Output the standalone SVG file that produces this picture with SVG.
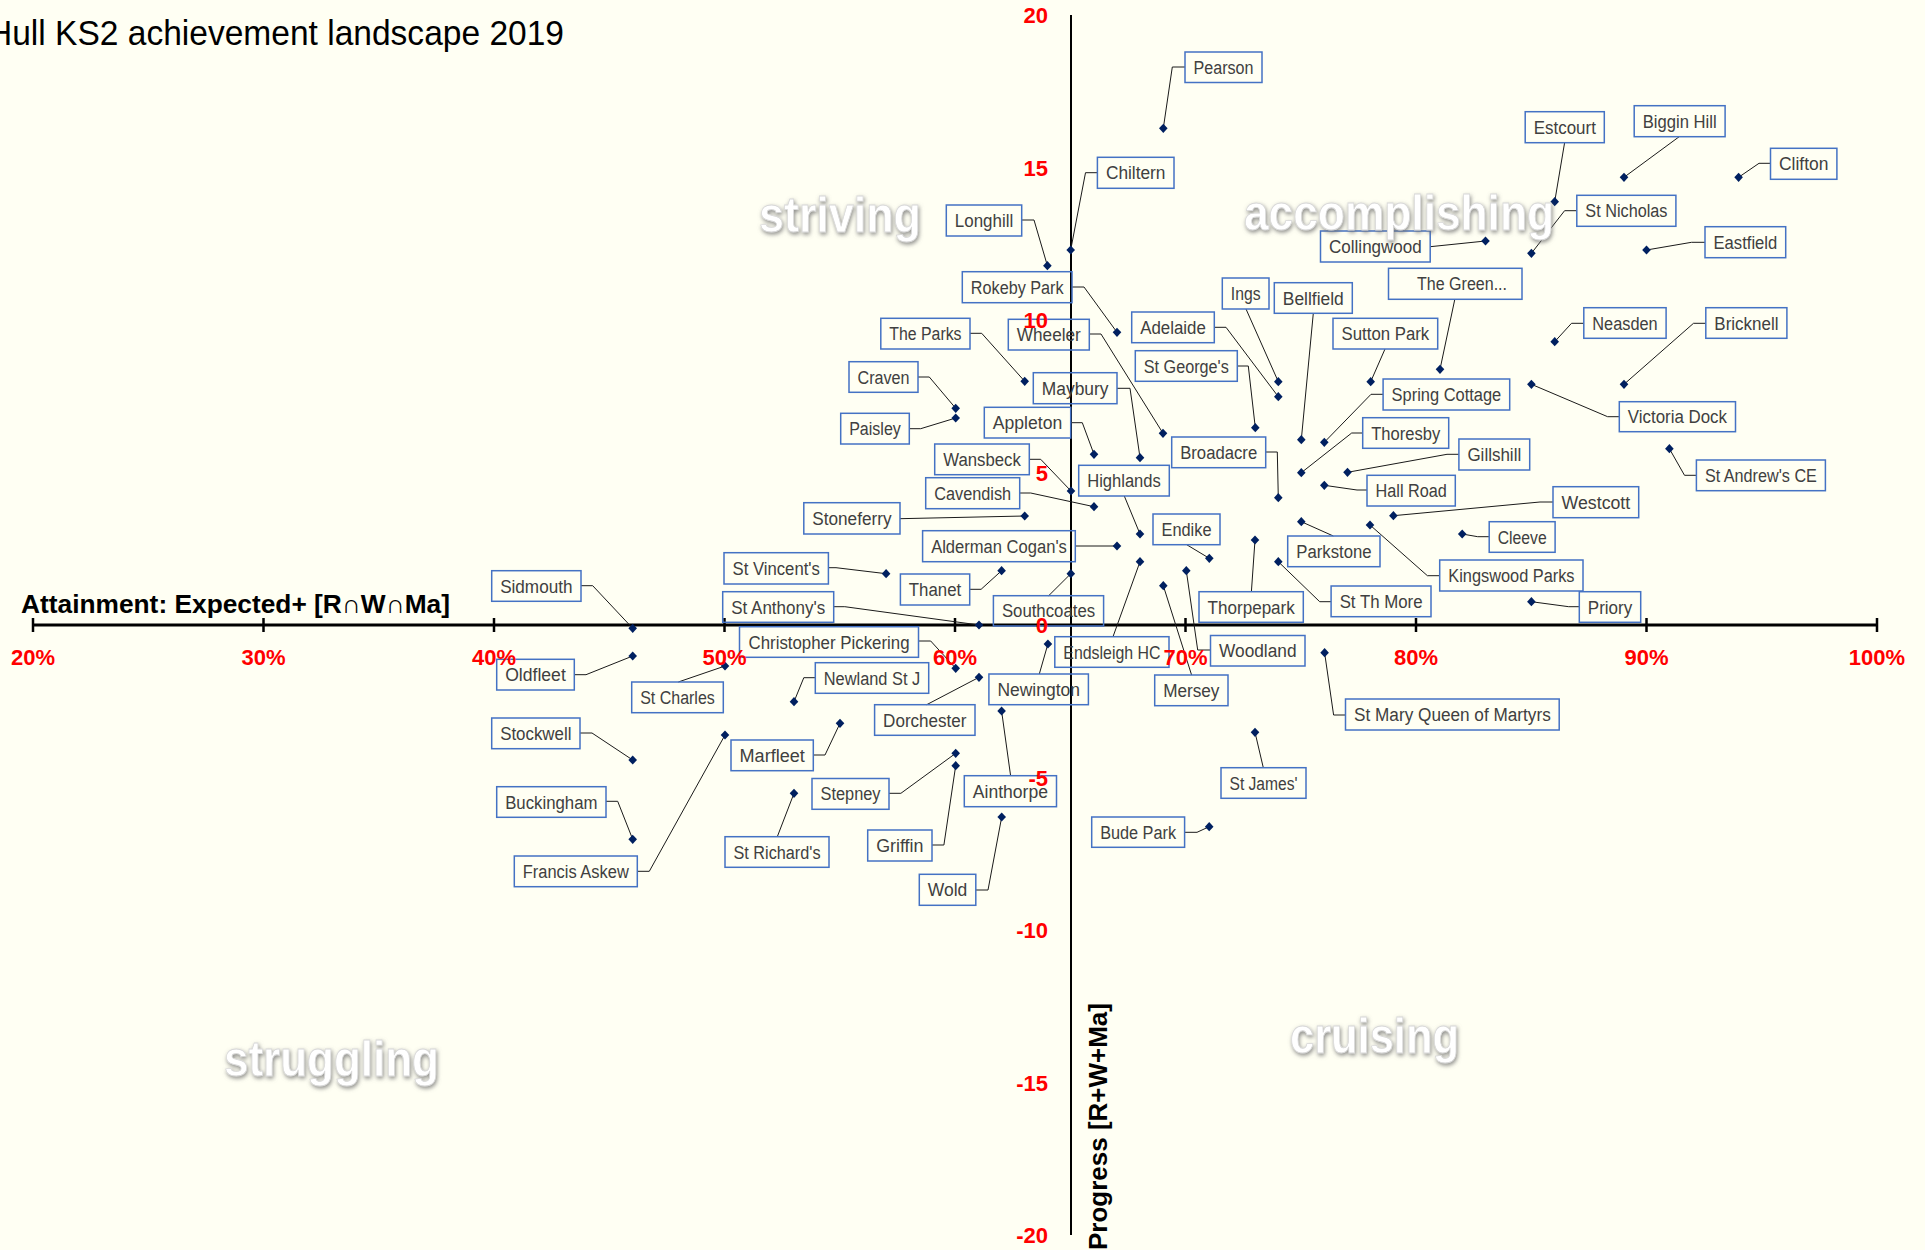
<svg xmlns="http://www.w3.org/2000/svg" xmlns:xlink="http://www.w3.org/1999/xlink" width="1925" height="1250" viewBox="0 0 1925 1250">
<style>
.bx{fill:none;stroke:#4472C4;stroke-width:1.5}
.lb{font-family:"Liberation Sans",Arial,sans-serif;font-size:18px;fill:#404040;text-anchor:middle}
.ld{fill:none;stroke:#1a1a1a;stroke-width:1}
.tx{font-family:"Liberation Sans",Arial,sans-serif;font-size:22px;font-weight:bold;fill:#FF0000;text-anchor:middle}
.ty{font-family:"Liberation Sans",Arial,sans-serif;font-size:22px;font-weight:bold;fill:#FF0000;text-anchor:end}
.at{font-family:"Liberation Sans",Arial,sans-serif;font-size:26px;font-weight:bold;fill:#000}
.q{font-family:"Liberation Sans",Arial,sans-serif;font-size:50px;font-weight:bold;fill:#fff;stroke:#d8d8d8;stroke-width:0.8}
</style>
<defs>
<path id="dm" d="M0,-4.6 L4.3,0 L0,4.6 L-4.3,0 Z" fill="#002060"/>
<filter id="glow" x="-10%" y="-30%" width="120%" height="170%">
<feGaussianBlur in="SourceAlpha" stdDeviation="2"/>
<feOffset dx="1" dy="2" result="b"/>
<feFlood flood-color="#6f6f6f" flood-opacity="0.8"/>
<feComposite in2="b" operator="in"/>
<feMerge><feMergeNode/><feMergeNode in="SourceGraphic"/></feMerge>
</filter>
</defs>
<rect x="0" y="0" width="1925" height="1250" fill="#FFFFF3"/>
<text x="-12" y="45" font-family="Liberation Sans, Arial, sans-serif" font-size="35" fill="#000" textLength="576" lengthAdjust="spacingAndGlyphs">Hull KS2 achievement landscape 2019</text>

<g id="axes">
<line x1="1071" y1="15" x2="1071" y2="1235" stroke="#000" stroke-width="2"/>
<line x1="33" y1="625" x2="1877" y2="625" stroke="#000" stroke-width="3"/>
<g stroke="#000" stroke-width="2.5">
<line x1="33" y1="618" x2="33" y2="632"/><line x1="263.5" y1="618" x2="263.5" y2="632"/><line x1="494" y1="618" x2="494" y2="632"/><line x1="724.5" y1="618" x2="724.5" y2="632"/><line x1="955" y1="618" x2="955" y2="632"/><line x1="1185.5" y1="618" x2="1185.5" y2="632"/><line x1="1416" y1="618" x2="1416" y2="632"/><line x1="1646.5" y1="618" x2="1646.5" y2="632"/><line x1="1877" y1="618" x2="1877" y2="632"/>
</g>
<text class="at" x="21" y="613" textLength="429" lengthAdjust="spacingAndGlyphs">Attainment: Expected+ [R∩W∩Ma]</text>
<text class="at" transform="translate(1107,1250) rotate(-90)" x="0" y="0" textLength="247" lengthAdjust="spacingAndGlyphs">Progress  [R+W+Ma]</text>
</g>

<g id="connectors">
<path class="ld" d="M1185,67 H1172.3 L1163.3,128.3"/>
<path class="ld" d="M1097.4,172.7 H1085.5 L1070.7,250"/>
<path class="ld" d="M1021.7,220 H1034 L1047.4,265.7"/>
<path class="ld" d="M1072,287 H1084 L1117,332.3"/>
<path class="ld" d="M970,333.3 H981.7 L1024.7,381.3"/>
<path class="ld" d="M1089.3,334 H1101 L1163,433.3"/>
<path class="ld" d="M918,377 H929.3 L955.7,408.3"/>
<path class="ld" d="M909.3,428.7 H920.7 L955.7,418"/>
<path class="ld" d="M1117,388.3 H1130 L1140,457.7"/>
<path class="ld" d="M1070.7,422.7 H1082.3 L1094,454.3"/>
<path class="ld" d="M1029.3,459.3 H1040.7 L1071,491"/>
<path class="ld" d="M1019.7,493 H1030.7 L1094,506.7"/>
<path class="ld" d="M1124.3,496 L1140,534"/>
<path class="ld" d="M900,518.7 L1024.7,516"/>
<path class="ld" d="M1075.3,546 H1117"/>
<path class="ld" d="M828.4,567.7 H836 L886.1,573.7"/>
<path class="ld" d="M969.7,589.3 H981.1 L1001.6,570.7"/>
<path class="ld" d="M833.7,606.7 H844.8 L979,625"/>
<path class="ld" d="M1048.7,595.7 L1070.8,573.7"/>
<path class="ld" d="M581,585.7 H592.7 L632.7,628.3"/>
<path class="ld" d="M574.3,674.7 H586 L632.7,656"/>
<path class="ld" d="M678.3,682 L725,666"/>
<path class="ld" d="M918.5,641 H930.7 L955.7,668.3"/>
<path class="ld" d="M815.3,677.7 H803.8 L794,701.7"/>
<path class="ld" d="M580,733 H592 L632.7,760"/>
<path class="ld" d="M813.3,755 H825 L840,723.3"/>
<path class="ld" d="M926.7,704.7 L979,677.3"/>
<path class="ld" d="M1039.3,674 L1047.9,644"/>
<path class="ld" d="M606,801.3 H617.7 L632.7,839.3"/>
<path class="ld" d="M637.3,871.3 H649.3 L725,735"/>
<path class="ld" d="M777.3,836.7 L794,793.3"/>
<path class="ld" d="M889,793.3 H900.9 L955.7,753.3"/>
<path class="ld" d="M932,845 H943.9 L955.7,765.7"/>
<path class="ld" d="M975.8,890 H988 L1001.7,817"/>
<path class="ld" d="M1010.6,775.7 L1001.6,711"/>
<path class="ld" d="M1184.6,832.3 H1197 L1209.2,826.7"/>
<path class="ld" d="M1113,636.7 L1140,561.7"/>
<path class="ld" d="M1191.6,675 L1163.3,585.7"/>
<path class="ld" d="M1210.5,650 H1197.7 L1186.3,570.7"/>
<path class="ld" d="M1263.3,767.7 L1255,732.3"/>
<path class="ld" d="M1345.5,715 H1333.6 L1324.6,652.7"/>
<path class="ld" d="M1251.4,591.7 L1255,540"/>
<path class="ld" d="M1186.7,544.7 L1209.3,558.3"/>
<path class="ld" d="M1265.7,452 H1277.3 L1278.3,497.7"/>
<path class="ld" d="M1214.3,327.3 H1226 L1278.3,396.7"/>
<path class="ld" d="M1237.3,366 H1248.3 L1255.3,427.7"/>
<path class="ld" d="M1246,309 L1278.3,381.7"/>
<path class="ld" d="M1313.3,313.3 L1301.3,439.7"/>
<path class="ld" d="M1454.8,299.3 L1440,369.3"/>
<path class="ld" d="M1385,349 L1370.7,381.7"/>
<path class="ld" d="M1383.1,394.3 H1371 L1324.3,442.3"/>
<path class="ld" d="M1362.7,433 H1351.7 L1301.3,472.7"/>
<path class="ld" d="M1458.9,454.3 H1447 L1347.5,472.3"/>
<path class="ld" d="M1367,490 H1357 L1324.3,485.3"/>
<path class="ld" d="M1553,502 H1540 L1393.4,515.7"/>
<path class="ld" d="M1489.2,536.7 H1477.7 L1462.2,534"/>
<path class="ld" d="M1333.3,536 L1301.3,521.7"/>
<path class="ld" d="M1439.7,575.7 H1427.4 L1370,525"/>
<path class="ld" d="M1331.1,601.7 H1319.7 L1278.3,561.7"/>
<path class="ld" d="M1579.3,606.7 H1568.7 L1531.4,601.7"/>
<path class="ld" d="M1564.6,142.7 L1554.7,201.7"/>
<path class="ld" d="M1679.2,136.7 L1624,177.3"/>
<path class="ld" d="M1770.5,163.3 H1759 L1738.6,177.3"/>
<path class="ld" d="M1576.8,210.7 H1564.6 L1531.4,253.3"/>
<path class="ld" d="M1430.2,246.7 L1485.5,241"/>
<path class="ld" d="M1705,242.3 H1691.5 L1646.5,250"/>
<path class="ld" d="M1583.8,323.3 H1571.5 L1554.7,341.7"/>
<path class="ld" d="M1705.8,323.3 H1693.5 L1624,384.3"/>
<path class="ld" d="M1619.3,416.7 H1607.6 L1531.4,384.3"/>
<path class="ld" d="M1696.4,475.3 H1684.5 L1669.4,448.7"/>
</g>

<g id="nodes">
<g id="n-pearson"><use href="#dm" x="1163.3" y="128.3"/><rect class="bx" x="1185" y="52" width="77" height="30.5"/><text class="lb" x="1223.5" y="73.6" textLength="60" lengthAdjust="spacingAndGlyphs">Pearson</text></g>
<g id="n-chiltern"><use href="#dm" x="1070.7" y="250"/><rect class="bx" x="1097.4" y="157.3" width="76.6" height="31"/><text class="lb" x="1135.7" y="179.3" textLength="59.6" lengthAdjust="spacingAndGlyphs">Chiltern</text></g>
<g id="n-longhill"><use href="#dm" x="1047.4" y="265.7"/><rect class="bx" x="946.3" y="205" width="75.4" height="31"/><text class="lb" x="984" y="227" textLength="58.4" lengthAdjust="spacingAndGlyphs">Longhill</text></g>
<g id="n-rokeby"><use href="#dm" x="1117" y="332.3"/><rect class="bx" x="962.3" y="271.7" width="109.7" height="31"/><text class="lb" x="1017.2" y="293.7" textLength="92.7" lengthAdjust="spacingAndGlyphs">Rokeby Park</text></g>
<g id="n-theparks"><use href="#dm" x="1024.7" y="381.3"/><rect class="bx" x="880.8" y="318.3" width="89.2" height="30.7"/><text class="lb" x="925.4" y="340.2" textLength="72.2" lengthAdjust="spacingAndGlyphs">The Parks</text></g>
<g id="n-wheeler"><use href="#dm" x="1163" y="433.3"/><rect class="bx" x="1008.3" y="319.3" width="81" height="30.7"/><text class="lb" x="1048.8" y="341.2" textLength="64" lengthAdjust="spacingAndGlyphs">Wheeler</text></g>
<g id="n-craven"><use href="#dm" x="955.7" y="408.3"/><rect class="bx" x="849" y="361.7" width="69" height="30.6"/><text class="lb" x="883.5" y="383.5" textLength="52" lengthAdjust="spacingAndGlyphs">Craven</text></g>
<g id="n-paisley"><use href="#dm" x="955.7" y="418"/><rect class="bx" x="840.7" y="413.3" width="68.6" height="30.7"/><text class="lb" x="875" y="435.2" textLength="51.6" lengthAdjust="spacingAndGlyphs">Paisley</text></g>
<g id="n-maybury"><use href="#dm" x="1140" y="457.7"/><rect class="bx" x="1033.3" y="372.7" width="83.7" height="31"/><text class="lb" x="1075.2" y="394.7" textLength="66.7" lengthAdjust="spacingAndGlyphs">Maybury</text></g>
<g id="n-appleton"><use href="#dm" x="1094" y="454.3"/><rect class="bx" x="984.3" y="407.3" width="86.4" height="30.7"/><text class="lb" x="1027.5" y="429.2" textLength="69.4" lengthAdjust="spacingAndGlyphs">Appleton</text></g>
<g id="n-wansbeck"><use href="#dm" x="1071" y="491"/><rect class="bx" x="934.7" y="444" width="94.6" height="30.7"/><text class="lb" x="982" y="465.9" textLength="77.6" lengthAdjust="spacingAndGlyphs">Wansbeck</text></g>
<g id="n-cavendish"><use href="#dm" x="1094" y="506.7"/><rect class="bx" x="925.7" y="477.7" width="94" height="31"/><text class="lb" x="972.7" y="499.7" textLength="77" lengthAdjust="spacingAndGlyphs">Cavendish</text></g>
<g id="n-highlands"><use href="#dm" x="1140" y="534"/><rect class="bx" x="1078.7" y="465.3" width="90.6" height="30.7"/><text class="lb" x="1124" y="487.2" textLength="73.6" lengthAdjust="spacingAndGlyphs">Highlands</text></g>
<g id="n-stoneferry"><use href="#dm" x="1024.7" y="516"/><rect class="bx" x="803.8" y="502.7" width="96.2" height="31.3"/><text class="lb" x="851.9" y="524.9" textLength="79.2" lengthAdjust="spacingAndGlyphs">Stoneferry</text></g>
<g id="n-alderman"><use href="#dm" x="1117" y="546"/><rect class="bx" x="922.6" y="530.7" width="152.7" height="31"/><text class="lb" x="999" y="552.7" textLength="135.7" lengthAdjust="spacingAndGlyphs">Alderman Cogan's</text></g>
<g id="n-stvincents"><use href="#dm" x="886.1" y="573.7"/><rect class="bx" x="724" y="552.7" width="104.4" height="31.3"/><text class="lb" x="776.2" y="574.9" textLength="87.4" lengthAdjust="spacingAndGlyphs">St Vincent's</text></g>
<g id="n-thanet"><use href="#dm" x="1001.6" y="570.7"/><rect class="bx" x="900.4" y="574" width="69.3" height="31"/><text class="lb" x="935" y="596" textLength="52.3" lengthAdjust="spacingAndGlyphs">Thanet</text></g>
<g id="n-stanthonys"><use href="#dm" x="979" y="625"/><rect class="bx" x="722.7" y="591.7" width="111" height="30.6"/><text class="lb" x="778.2" y="613.5" textLength="94" lengthAdjust="spacingAndGlyphs">St Anthony's</text></g>
<g id="n-southcoates"><use href="#dm" x="1070.8" y="573.7"/><rect class="bx" x="993.4" y="595.7" width="110.2" height="30.3"/><text class="lb" x="1048.5" y="617.4" textLength="93.2" lengthAdjust="spacingAndGlyphs">Southcoates</text></g>
<g id="n-sidmouth"><use href="#dm" x="632.7" y="628.3"/><rect class="bx" x="491.7" y="570.7" width="89.3" height="30.6"/><text class="lb" x="536.3" y="592.5" textLength="72.3" lengthAdjust="spacingAndGlyphs">Sidmouth</text></g>
<g id="n-oldfleet"><use href="#dm" x="632.7" y="656"/><rect class="bx" x="496.7" y="659.3" width="77.6" height="30.7"/><text class="lb" x="535.5" y="681.2" textLength="60.6" lengthAdjust="spacingAndGlyphs">Oldfleet</text></g>
<g id="n-stcharles"><use href="#dm" x="725" y="666"/><rect class="bx" x="631.7" y="682" width="91.6" height="30.7"/><text class="lb" x="677.5" y="703.9" textLength="74.6" lengthAdjust="spacingAndGlyphs">St Charles</text></g>
<g id="n-christopher"><use href="#dm" x="955.7" y="668.3"/><rect class="bx" x="739.5" y="626.7" width="179" height="30.6"/><text class="lb" x="829" y="648.5" textLength="161" lengthAdjust="spacingAndGlyphs">Christopher Pickering</text></g>
<g id="n-newland"><use href="#dm" x="794" y="701.7"/><rect class="bx" x="815.3" y="662.7" width="113.4" height="30.6"/><text class="lb" x="872" y="684.5" textLength="96.4" lengthAdjust="spacingAndGlyphs">Newland St J</text></g>
<g id="n-stockwell"><use href="#dm" x="632.7" y="760"/><rect class="bx" x="491.7" y="718" width="88.3" height="30.7"/><text class="lb" x="535.8" y="739.9" textLength="71.3" lengthAdjust="spacingAndGlyphs">Stockwell</text></g>
<g id="n-marfleet"><use href="#dm" x="840" y="723.3"/><rect class="bx" x="731" y="740" width="82.3" height="30.7"/><text class="lb" x="772.2" y="761.9" textLength="65.3" lengthAdjust="spacingAndGlyphs">Marfleet</text></g>
<g id="n-dorchester"><use href="#dm" x="979" y="677.3"/><rect class="bx" x="874.6" y="704.7" width="100.4" height="30.6"/><text class="lb" x="924.8" y="726.5" textLength="83.4" lengthAdjust="spacingAndGlyphs">Dorchester</text></g>
<g id="n-newington"><use href="#dm" x="1047.9" y="644"/><rect class="bx" x="988.9" y="674" width="99.5" height="30.7"/><text class="lb" x="1038.7" y="695.9" textLength="82.5" lengthAdjust="spacingAndGlyphs">Newington</text></g>
<g id="n-buckingham"><use href="#dm" x="632.7" y="839.3"/><rect class="bx" x="496.7" y="786.7" width="109.3" height="30.6"/><text class="lb" x="551.3" y="808.5" textLength="92.3" lengthAdjust="spacingAndGlyphs">Buckingham</text></g>
<g id="n-francis"><use href="#dm" x="725" y="735"/><rect class="bx" x="514.3" y="856" width="123" height="30.7"/><text class="lb" x="575.8" y="877.9" textLength="106" lengthAdjust="spacingAndGlyphs">Francis Askew</text></g>
<g id="n-strichards"><use href="#dm" x="794" y="793.3"/><rect class="bx" x="725" y="836.7" width="104" height="30.6"/><text class="lb" x="777" y="858.5" textLength="87" lengthAdjust="spacingAndGlyphs">St Richard's</text></g>
<g id="n-stepney"><use href="#dm" x="955.7" y="753.3"/><rect class="bx" x="812" y="778.5" width="77" height="30.8"/><text class="lb" x="850.5" y="800.4" textLength="60" lengthAdjust="spacingAndGlyphs">Stepney</text></g>
<g id="n-griffin"><use href="#dm" x="955.7" y="765.7"/><rect class="bx" x="867.7" y="830" width="64.3" height="31"/><text class="lb" x="899.8" y="852" textLength="47.3" lengthAdjust="spacingAndGlyphs">Griffin</text></g>
<g id="n-wold"><use href="#dm" x="1001.7" y="817"/><rect class="bx" x="919.3" y="874.3" width="56.5" height="31"/><text class="lb" x="947.6" y="896.3" textLength="39.5" lengthAdjust="spacingAndGlyphs">Wold</text></g>
<g id="n-ainthorpe"><use href="#dm" x="1001.6" y="711"/><rect class="bx" x="964.3" y="775.7" width="92.2" height="31"/><text class="lb" x="1010.4" y="797.7" textLength="75.2" lengthAdjust="spacingAndGlyphs">Ainthorpe</text></g>
<g id="n-budepark"><use href="#dm" x="1209.2" y="826.7"/><rect class="bx" x="1091.7" y="817" width="92.9" height="30.3"/><text class="lb" x="1138.1" y="838.7" textLength="75.9" lengthAdjust="spacingAndGlyphs">Bude Park</text></g>
<g id="n-endsleigh"><use href="#dm" x="1140" y="561.7"/><rect class="bx" x="1054.8" y="636.7" width="114.2" height="30.6"/><text class="lb" x="1111.9" y="658.5" textLength="97.2" lengthAdjust="spacingAndGlyphs">Endsleigh HC</text></g>
<g id="n-mersey"><use href="#dm" x="1163.3" y="585.7"/><rect class="bx" x="1154.7" y="675" width="73.3" height="30.7"/><text class="lb" x="1191.3" y="696.9" textLength="56.3" lengthAdjust="spacingAndGlyphs">Mersey</text></g>
<g id="n-woodland"><use href="#dm" x="1186.3" y="570.7"/><rect class="bx" x="1210.5" y="635.5" width="94.5" height="30.5"/><text class="lb" x="1257.8" y="657.3" textLength="77.5" lengthAdjust="spacingAndGlyphs">Woodland</text></g>
<g id="n-stjames"><use href="#dm" x="1255" y="732.3"/><rect class="bx" x="1221" y="767.7" width="85" height="30.6"/><text class="lb" x="1263.5" y="789.5" textLength="68" lengthAdjust="spacingAndGlyphs">St James'</text></g>
<g id="n-stmary"><use href="#dm" x="1324.6" y="652.7"/><rect class="bx" x="1345.5" y="699" width="213.7" height="31"/><text class="lb" x="1452.4" y="721" textLength="196.7" lengthAdjust="spacingAndGlyphs">St Mary Queen of Martyrs</text></g>
<g id="n-thorpepark"><use href="#dm" x="1255" y="540"/><rect class="bx" x="1199" y="591.7" width="104.3" height="30.6"/><text class="lb" x="1251.2" y="613.5" textLength="87.3" lengthAdjust="spacingAndGlyphs">Thorpepark</text></g>
<g id="n-endike"><use href="#dm" x="1209.3" y="558.3"/><rect class="bx" x="1153" y="514" width="67" height="30.7"/><text class="lb" x="1186.5" y="535.9" textLength="50" lengthAdjust="spacingAndGlyphs">Endike</text></g>
<g id="n-broadacre"><use href="#dm" x="1278.3" y="497.7"/><rect class="bx" x="1171.7" y="437" width="94" height="30.7"/><text class="lb" x="1218.7" y="458.9" textLength="77" lengthAdjust="spacingAndGlyphs">Broadacre</text></g>
<g id="n-adelaide"><use href="#dm" x="1278.3" y="396.7"/><rect class="bx" x="1131.7" y="312" width="82.6" height="30.7"/><text class="lb" x="1173" y="333.9" textLength="65.6" lengthAdjust="spacingAndGlyphs">Adelaide</text></g>
<g id="n-stgeorges"><use href="#dm" x="1255.3" y="427.7"/><rect class="bx" x="1135.3" y="350.7" width="102" height="30.6"/><text class="lb" x="1186.3" y="372.5" textLength="85" lengthAdjust="spacingAndGlyphs">St George's</text></g>
<g id="n-ings"><use href="#dm" x="1278.3" y="381.7"/><rect class="bx" x="1222.3" y="278" width="46.7" height="31"/><text class="lb" x="1245.7" y="300" textLength="29.7" lengthAdjust="spacingAndGlyphs">Ings</text></g>
<g id="n-bellfield"><use href="#dm" x="1301.3" y="439.7"/><rect class="bx" x="1274.3" y="282.7" width="78" height="30.6"/><text class="lb" x="1313.3" y="304.5" textLength="61" lengthAdjust="spacingAndGlyphs">Bellfield</text></g>
<g id="n-thegreen"><use href="#dm" x="1440" y="369.3"/><rect class="bx" x="1388.5" y="268.3" width="133.5" height="31"/><text class="lb" x="1462" y="290.3" textLength="90" lengthAdjust="spacingAndGlyphs">The Green...</text></g>
<g id="n-suttonpark"><use href="#dm" x="1370.7" y="381.7"/><rect class="bx" x="1333" y="318.3" width="104.7" height="30.7"/><text class="lb" x="1385.4" y="340.2" textLength="87.7" lengthAdjust="spacingAndGlyphs">Sutton Park</text></g>
<g id="n-springcottage"><use href="#dm" x="1324.3" y="442.3"/><rect class="bx" x="1383.1" y="379" width="126.6" height="31"/><text class="lb" x="1446.4" y="401" textLength="109.6" lengthAdjust="spacingAndGlyphs">Spring Cottage</text></g>
<g id="n-thoresby"><use href="#dm" x="1301.3" y="472.7"/><rect class="bx" x="1362.7" y="417.7" width="86" height="30.6"/><text class="lb" x="1405.7" y="439.5" textLength="69" lengthAdjust="spacingAndGlyphs">Thoresby</text></g>
<g id="n-gillshill"><use href="#dm" x="1347.5" y="472.3"/><rect class="bx" x="1458.9" y="439" width="70.8" height="31"/><text class="lb" x="1494.3" y="461" textLength="53.8" lengthAdjust="spacingAndGlyphs">Gillshill</text></g>
<g id="n-hallroad"><use href="#dm" x="1324.3" y="485.3"/><rect class="bx" x="1367" y="475.3" width="88.3" height="30.7"/><text class="lb" x="1411.2" y="497.2" textLength="71.3" lengthAdjust="spacingAndGlyphs">Hall Road</text></g>
<g id="n-westcott"><use href="#dm" x="1393.4" y="515.7"/><rect class="bx" x="1553" y="486.7" width="85.7" height="31"/><text class="lb" x="1595.9" y="508.7" textLength="68.7" lengthAdjust="spacingAndGlyphs">Westcott</text></g>
<g id="n-cleeve"><use href="#dm" x="1462.2" y="534"/><rect class="bx" x="1489.2" y="521.7" width="65.9" height="30.6"/><text class="lb" x="1522.2" y="543.5" textLength="48.9" lengthAdjust="spacingAndGlyphs">Cleeve</text></g>
<g id="n-parkstone"><use href="#dm" x="1301.3" y="521.7"/><rect class="bx" x="1287.7" y="536" width="92.3" height="30.7"/><text class="lb" x="1333.9" y="557.9" textLength="75.3" lengthAdjust="spacingAndGlyphs">Parkstone</text></g>
<g id="n-kingswood"><use href="#dm" x="1370" y="525"/><rect class="bx" x="1439.7" y="560" width="143.3" height="31"/><text class="lb" x="1511.4" y="582" textLength="126.3" lengthAdjust="spacingAndGlyphs">Kingswood Parks</text></g>
<g id="n-stthmore"><use href="#dm" x="1278.3" y="561.7"/><rect class="bx" x="1331.1" y="586" width="99.9" height="30.7"/><text class="lb" x="1381.1" y="607.9" textLength="82.9" lengthAdjust="spacingAndGlyphs">St Th More</text></g>
<g id="n-priory"><use href="#dm" x="1531.4" y="601.7"/><rect class="bx" x="1579.3" y="591.7" width="61.4" height="30.6"/><text class="lb" x="1610" y="613.5" textLength="44.4" lengthAdjust="spacingAndGlyphs">Priory</text></g>
<g id="n-estcourt"><use href="#dm" x="1554.7" y="201.7"/><rect class="bx" x="1525.2" y="111.7" width="79.1" height="31"/><text class="lb" x="1564.8" y="133.7" textLength="62.1" lengthAdjust="spacingAndGlyphs">Estcourt</text></g>
<g id="n-bigginhill"><use href="#dm" x="1624" y="177.3"/><rect class="bx" x="1634.2" y="105.7" width="90.9" height="31"/><text class="lb" x="1679.7" y="127.7" textLength="73.9" lengthAdjust="spacingAndGlyphs">Biggin Hill</text></g>
<g id="n-clifton"><use href="#dm" x="1738.6" y="177.3"/><rect class="bx" x="1770.5" y="148.3" width="66.4" height="31"/><text class="lb" x="1803.7" y="170.3" textLength="49.4" lengthAdjust="spacingAndGlyphs">Clifton</text></g>
<g id="n-stnicholas"><use href="#dm" x="1531.4" y="253.3"/><rect class="bx" x="1576.8" y="195.3" width="99.1" height="31"/><text class="lb" x="1626.4" y="217.3" textLength="82.1" lengthAdjust="spacingAndGlyphs">St Nicholas</text></g>
<g id="n-collingwood"><use href="#dm" x="1485.5" y="241"/><rect class="bx" x="1320.5" y="231" width="109.7" height="31"/><text class="lb" x="1375.4" y="253" textLength="92.7" lengthAdjust="spacingAndGlyphs">Collingwood</text></g>
<g id="n-eastfield"><use href="#dm" x="1646.5" y="250"/><rect class="bx" x="1705" y="226.7" width="80.7" height="31"/><text class="lb" x="1745.4" y="248.7" textLength="63.7" lengthAdjust="spacingAndGlyphs">Eastfield</text></g>
<g id="n-neasden"><use href="#dm" x="1554.7" y="341.7"/><rect class="bx" x="1583.8" y="307.7" width="82.3" height="30.6"/><text class="lb" x="1625" y="329.5" textLength="65.3" lengthAdjust="spacingAndGlyphs">Neasden</text></g>
<g id="n-bricknell"><use href="#dm" x="1624" y="384.3"/><rect class="bx" x="1705.8" y="307.7" width="81.1" height="30.6"/><text class="lb" x="1746.4" y="329.5" textLength="64.1" lengthAdjust="spacingAndGlyphs">Bricknell</text></g>
<g id="n-victoriadock"><use href="#dm" x="1531.4" y="384.3"/><rect class="bx" x="1619.3" y="401.7" width="116.2" height="30"/><text class="lb" x="1677.4" y="423.2" textLength="99.2" lengthAdjust="spacingAndGlyphs">Victoria Dock</text></g>
<g id="n-standrews"><use href="#dm" x="1669.4" y="448.7"/><rect class="bx" x="1696.4" y="460" width="129" height="30.7"/><text class="lb" x="1760.9" y="481.9" textLength="112" lengthAdjust="spacingAndGlyphs">St Andrew's CE</text></g>
</g>

<g id="ticklabels">
<text class="tx" x="33" y="665">20%</text><text class="tx" x="263.5" y="665">30%</text><text class="tx" x="494" y="665">40%</text><text class="tx" x="724.5" y="665">50%</text><text class="tx" x="955" y="665">60%</text><text class="tx" x="1185.5" y="665">70%</text><text class="tx" x="1416" y="665">80%</text><text class="tx" x="1646.5" y="665">90%</text><text class="tx" x="1877" y="665">100%</text>
<text class="ty" x="1048" y="23">20</text><text class="ty" x="1048" y="175.5">15</text><text class="ty" x="1048" y="328">10</text><text class="ty" x="1048" y="480.5">5</text><text class="ty" x="1048" y="633">0</text><text class="ty" x="1048" y="785.5">-5</text><text class="ty" x="1048" y="938">-10</text><text class="ty" x="1048" y="1090.5">-15</text><text class="ty" x="1048" y="1243">-20</text>
</g>

<g id="quadrants" filter="url(#glow)">
<text class="q" x="759" y="232" textLength="162" lengthAdjust="spacingAndGlyphs">striving</text>
<text class="q" x="1244" y="230" textLength="310" lengthAdjust="spacingAndGlyphs">accomplishing</text>
<text class="q" x="224" y="1076" textLength="215" lengthAdjust="spacingAndGlyphs">struggling</text>
<text class="q" x="1290" y="1053" textLength="169" lengthAdjust="spacingAndGlyphs">cruising</text>
</g>
</svg>
